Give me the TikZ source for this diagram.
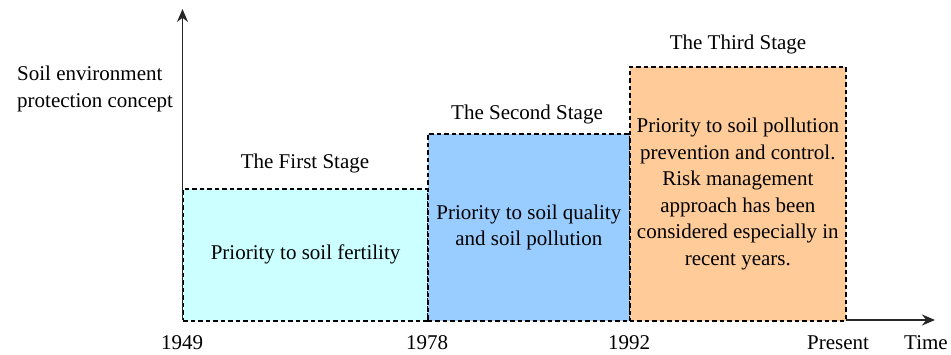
\documentclass[tikz,border=0pt]{standalone}
\usepackage{fontspec}
\setmainfont{Liberation Serif}
\usetikzlibrary{arrows.meta}
\definecolor{cA}{HTML}{CCFFFF}
\definecolor{cB}{HTML}{99CCFF}
\definecolor{cC}{HTML}{FFCC99}
\begin{document}
\begin{tikzpicture}[x=1pt,y=-1pt,
  stagebox/.style={draw=black, line width=1.6pt, dash pattern=on 4.5pt off 3pt, anchor=north west, inner sep=0pt, align=center},
  lbl/.style={font=\fontsize{21}{26.5}\selectfont, inner sep=0pt},
  axis/.style={line width=1.4pt, draw=black!85, -{Stealth[length=13pt,width=11pt]}}]
\useasboundingbox (0,0) rectangle (951,355);
\coordinate (o) at (182.5,320);
\coordinate (ytop) at (182.5,9);
\coordinate (xend) at (935,320);
\draw[axis] (o) -- (ytop);
\draw[axis] (o) -- (xend);
\node[stagebox, fill=cA, minimum width=244.5pt, minimum height=132pt, lbl] (b1) at (182.5,188) {Priority to soil fertility};
\node[stagebox, fill=cB, minimum width=202pt, minimum height=187pt, lbl] (b2) at (427,133) {Priority to soil quality\\and soil pollution};
\node[stagebox, fill=cC, minimum width=216pt, minimum height=254pt, lbl] (b3) at (629,66) {Priority to soil pollution\\prevention and control.\\Risk management\\approach has been\\considered especially in\\recent years.};
\node[lbl] (s1) at (305,163) {The First Stage};
\node[lbl] (s2) at (527,114) {The Second Stage};
\node[lbl] (s3) at (738,44) {The Third Stage};
\node[lbl, align=left, anchor=west] (ylab) at (17,89) {Soil environment\\protection concept};
\node[lbl] (t1) at (182,343) {1949};
\node[lbl] (t2) at (427,343) {1978};
\node[lbl] (t3) at (629,343) {1992};
\node[lbl] (t4) at (838,343) {Present};
\node[lbl] (t5) at (926,343) {Time};
\end{tikzpicture}
\end{document}
